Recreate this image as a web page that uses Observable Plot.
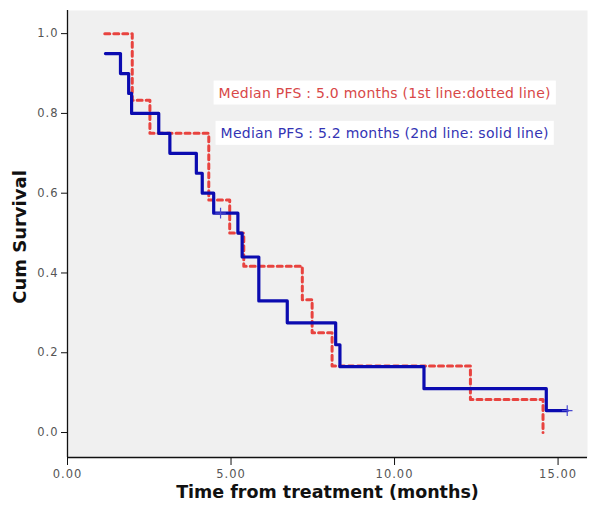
<!DOCTYPE html>
<html>
<head>
<meta charset="utf-8">
<script src="https://cdn.jsdelivr.net/npm/d3@7"></script>
<script src="https://cdn.jsdelivr.net/npm/@observablehq/plot@0.6"></script>
<style>
  html, body { margin: 0; padding: 0; background: white; }
  .tk text { letter-spacing: 1px; }
  .ann text { letter-spacing: 0.25px; }
</style>
</head>
<body>
<script>
// 2nd line (solid, blue): step start times and survival
const blueTime = [1.16, 1.62, 1.87, 1.96, 2.79, 3.13, 3.94, 4.12, 4.47, 5.21, 5.34, 5.85, 6.72, 8.20, 8.33, 10.90, 14.64, 15.28];
const blueSurv = [0.95, 0.90, 0.85, 0.80, 0.75, 0.70, 0.65, 0.60, 0.55, 0.50, 0.44, 0.33, 0.275, 0.22, 0.165, 0.11, 0.055, 0.055];
// censored observations, 2nd line
const blueCensorTime = [4.68, 15.28];
const blueCensorSurv = [0.55, 0.055];
// 1st line (dotted, red)
const redTime = [1.14, 1.98, 2.52, 4.32, 4.96, 5.39, 7.18, 7.48, 8.09, 12.32, 14.54];
const redSurv = [1.0, 0.833, 0.75, 0.583, 0.5, 0.417, 0.333, 0.25, 0.167, 0.083, 0.0];

const xTicks = [0, 5, 10, 15];
const yTicks = [0, 0.2, 0.4, 0.6, 0.8, 1.0];

const annotText = ["Median PFS : 5.0 months (1st line:dotted line)", "Median PFS : 5.2 months (2nd line: solid line)"];
const annotTime = [4.62, 4.68];
const annotSurv = [0.851, 0.75];
const annotColor = ["#d84848", "#3434b4"];

const blue = blueTime.map((t, i) => ({t, s: blueSurv[i]}));
const red = redTime.map((t, i) => ({t, s: redSurv[i]}));
const censor = blueCensorTime.map((t, i) => ({t, s: blueCensorSurv[i]}));
const annots = annotText.map((label, i) => ({label, t: annotTime[i], s: annotSurv[i], c: annotColor[i]}));

const yMin = -0.0626;
const chart = Plot.plot({
  width: 600,
  height: 523,
  marginLeft: 67,
  marginRight: 13,
  marginTop: 10,
  marginBottom: 66,
  style: {background: "white", fontFamily: "'DejaVu Sans', sans-serif", fontSize: "11px"},
  x: {domain: [0, 15.9]},
  y: {domain: [yMin, 1.058]},
  marks: [
    Plot.frame({fill: "#f0f0f0", stroke: null}),
    Plot.axisX({ticks: xTicks, tickFormat: d3.format(".2f"), tickSize: 8, tickPadding: 4, label: null, stroke: "#111", fill: "#555", fontSize: 11.5, className: "tk"}),
    Plot.axisY({ticks: yTicks, tickFormat: d3.format(".1f"), tickSize: 6, tickPadding: 3, label: null, stroke: "#111", fill: "#555", fontSize: 11.5, className: "tk"}),
    Plot.ruleX([0], {stroke: "#111", strokeWidth: 1.3}),
    Plot.ruleY([yMin], {stroke: "#111", strokeWidth: 1.3}),
    Plot.line(red, {x: "t", y: "s", curve: "step-after", stroke: "#e8433f", strokeWidth: 3, strokeDasharray: "5,4"}),
    Plot.line(blue, {x: "t", y: "s", curve: "step-after", stroke: "#0b0bb0", strokeWidth: 3.2}),
    Plot.dot(censor, {x: "t", y: "s", symbol: "plus", r: 3.5, stroke: "#4a4ad0", strokeWidth: 1.2}),
    Plot.text(annots, {x: "t", y: "s", text: "label", fill: "c", textAnchor: "start", fontSize: 14, className: "ann"}),
    Plot.text(["Time from treatment (months)"], {frameAnchor: "bottom", dy: 40, fontSize: 17.5, fontWeight: "bold", fill: "#111"}),
    Plot.text(["Cum Survival"], {frameAnchor: "left", textAnchor: "middle", dx: -47, dy: 3, rotate: -90, fontSize: 18, fontWeight: "bold", fill: "#111"})
  ]
});
document.body.appendChild(chart);

// white boxes behind the median annotations
chart.querySelectorAll("text").forEach(el => {
  if (el.textContent.startsWith("Median")) {
    const b = el.getBBox();
    const r = document.createElementNS("http://www.w3.org/2000/svg", "rect");
    r.setAttribute("x", b.x - 5);
    r.setAttribute("y", b.y - 4);
    r.setAttribute("width", b.width + 10);
    r.setAttribute("height", b.height + 8);
    r.setAttribute("fill", "white");
    const tr = el.getAttribute("transform");
    if (tr) r.setAttribute("transform", tr);
    el.parentNode.insertBefore(r, el);
  }
});
</script>
</body>
</html>
